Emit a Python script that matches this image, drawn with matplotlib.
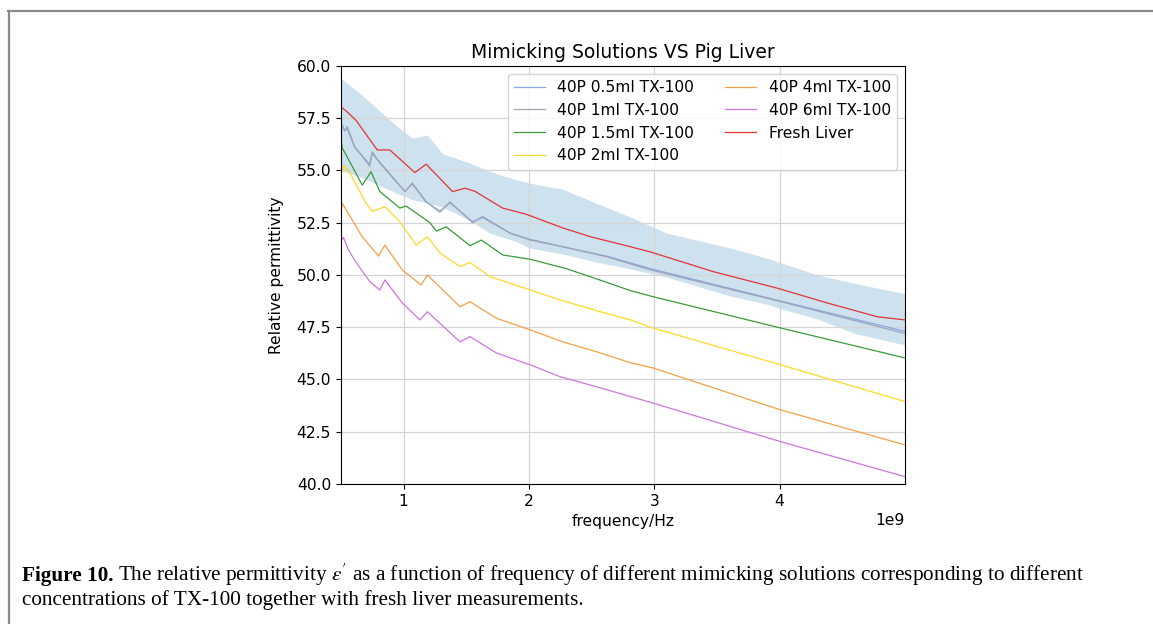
import matplotlib
matplotlib.use("Agg")
import matplotlib.pyplot as plt
from matplotlib.lines import Line2D
import numpy as np

plt.rcParams["font.family"] = ["DejaVu Sans"]
plt.rcParams["mathtext.fontset"] = "stix"

# frequencies in GHz, permittivity readings per solution
f_05 = [0.5, 0.53, 0.55, 0.61, 0.73, 0.75, 0.81, 1.01, 1.07, 1.18, 1.29, 1.37, 1.55, 1.63, 1.85, 2.01, 2.27, 2.62, 2.97, 4.01, 5.0]
e_05 = [57.3, 56.9, 57.0, 56.1, 55.3, 55.8, 55.4, 54.0, 54.35, 53.5, 53.05, 53.45, 52.55, 52.75, 52.0, 51.7, 51.35, 50.9, 50.3, 48.75, 47.3]
f_1 = [0.5, 0.53, 0.55, 0.61, 0.73, 0.75, 0.81, 1.01, 1.07, 1.18, 1.29, 1.37, 1.55, 1.63, 1.85, 2.01, 2.27, 2.62, 2.97, 4.01, 5.0]
e_1 = [57.2, 56.9, 57.1, 56.14, 55.2, 55.9, 55.35, 53.99, 54.4, 53.5, 53.0, 53.5, 52.5, 52.8, 52.0, 51.67, 51.35, 50.87, 50.24, 48.72, 47.2]
f_15 = [0.5, 0.51, 0.59, 0.67, 0.74, 0.81, 0.97, 1.02, 1.21, 1.26, 1.34, 1.53, 1.62, 1.79, 2.01, 2.3, 2.57, 2.81, 2.99, 4.01, 5.0]
e_15 = [56.46, 56.08, 55.2, 54.3, 54.94, 53.99, 53.2, 53.3, 52.5, 52.1, 52.3, 51.4, 51.67, 50.96, 50.75, 50.3, 49.75, 49.25, 48.96, 47.46, 46.03]
f_2 = [0.5, 0.52, 0.57, 0.70, 0.75, 0.85, 0.97, 1.10, 1.19, 1.29, 1.45, 1.53, 1.69, 2.01, 2.25, 2.57, 2.81, 2.99, 4.01, 5.0]
e_2 = [54.7, 55.26, 54.88, 53.44, 53.03, 53.27, 52.55, 51.43, 51.83, 51.05, 50.4, 50.6, 49.92, 49.28, 48.8, 48.24, 47.85, 47.46, 45.7, 43.94]
f_4 = [0.5, 0.51, 0.55, 0.67, 0.80, 0.85, 0.99, 1.14, 1.19, 1.45, 1.53, 1.74, 2.01, 2.27, 2.57, 2.81, 2.99, 4.01, 5.0]
e_4 = [52.96, 53.44, 53.03, 51.83, 50.9, 51.43, 50.24, 49.52, 50.0, 48.48, 48.72, 47.93, 47.37, 46.8, 46.27, 45.8, 45.55, 43.54, 41.87]
f_6 = [0.5, 0.52, 0.56, 0.61, 0.73, 0.81, 0.85, 0.99, 1.13, 1.19, 1.45, 1.53, 1.74, 2.01, 2.25, 2.57, 2.81, 2.99, 4.01, 5.0]
e_6 = [51.6, 51.8, 51.2, 50.7, 49.68, 49.28, 49.76, 48.66, 47.85, 48.24, 46.8, 47.05, 46.27, 45.7, 45.13, 44.6, 44.18, 43.87, 42.02, 40.35]

# fresh liver mean and spread
f_liver = [0.5, 0.55, 0.62, 0.79, 0.89, 1.09, 1.18, 1.39, 1.49, 1.57, 1.79, 1.98, 2.27, 2.49, 2.81, 2.97, 3.47, 3.98, 4.38, 4.78, 5.0]
e_liver = [58.05, 57.8, 57.4, 55.98, 55.98, 54.9, 55.3, 53.99, 54.15, 54.0, 53.2, 52.9, 52.25, 51.83, 51.35, 51.1, 50.16, 49.37, 48.66, 48.0, 47.85]
band_f = [0.5, 0.65, 0.8, 0.95, 1.07, 1.19, 1.31, 1.53, 1.69, 1.9, 2.0, 2.27, 2.55, 2.8, 3.1, 3.6, 3.9, 4.0, 4.3, 4.6, 5.0]
band_hi = [59.4, 58.7, 57.9, 57.1, 56.55, 56.7, 55.8, 55.35, 54.95, 54.55, 54.4, 54.1, 53.4, 52.8, 52.0, 51.3, 50.8, 50.6, 50.0, 49.6, 49.1]
band_lo = [55.0, 54.7, 54.3, 53.9, 53.6, 53.45, 53.25, 52.6, 52.0, 51.6, 51.3, 51.0, 50.6, 50.3, 49.9, 49.0, 48.6, 48.4, 47.9, 47.2, 46.65]

series = [
    ("40P 0.5ml TX-100", f_05, e_05, "#87a8e0"),
    ("40P 1ml TX-100", f_1, e_1, "#a4a4b4"),
    ("40P 1.5ml TX-100", f_15, e_15, "#3a9a3a"),
    ("40P 2ml TX-100", f_2, e_2, "#ffd92a"),
    ("40P 4ml TX-100", f_4, e_4, "#f5a047"),
    ("40P 6ml TX-100", f_6, e_6, "#cc77dd"),
]

fig = plt.figure(figsize=(11.53, 6.24), dpi=100)
ax = fig.add_axes([0.2957, 0.2244, 0.4892, 0.6699])

ax.fill_between(np.array(band_f) * 1e9, band_lo, band_hi, color="tab:blue", alpha=0.22, lw=0)
for name, f, e, c in series:
    ax.plot(np.array(f) * 1e9, e, color=c, lw=0.9, label=name)
ax.plot(np.array(f_liver) * 1e9, e_liver, color="#e03535", lw=0.9, label="Fresh Liver")

fs = 11.2
ax.set_xlim(0.5e9, 5.0e9)
ax.set_ylim(40, 60)
ax.set_yticks(np.arange(40, 60.1, 2.5))
ax.set_xticks([1e9, 2e9, 3e9, 4e9])
ax.grid(True, color="#d5d5d5", lw=0.9)
ax.tick_params(labelsize=fs)
ax.xaxis.get_offset_text().set_fontsize(fs)
ax.set_title("Mimicking Solutions VS Pig Liver", fontsize=13.5)
ax.set_xlabel("frequency/Hz", fontsize=fs)
ax.set_ylabel("Relative permittivity", fontsize=fs, labelpad=9)
ax.legend(ncol=2, loc="upper right", fontsize=fs, framealpha=0.8)

# page frame around the figure
fig.add_artist(Line2D([8 / 1153, 1.0], [1 - 10.5 / 624] * 2, color="#8a8a8a", lw=1.6))
fig.add_artist(Line2D([8.5 / 1153] * 2, [0, 1 - 10.5 / 624], color="#8a8a8a", lw=1.6))

# caption, bold label followed by plain text on the same baseline
cap_font = "Liberation Serif"
cap_size = 15.3
x0 = 22 / 1153
y1 = 1 - 581 / 624
bold = fig.text(x0, y1, "Figure 10.", fontsize=cap_size, fontweight="bold",
                family=cap_font, va="baseline")
renderer = fig.canvas.get_renderer()
bw = bold.get_window_extent(renderer).width / fig.bbox.width
fig.text(x0 + bw + 4 / 1153, y1,
         r"The relative permittivity $\varepsilon'$ as a function of frequency of different mimicking solutions corresponding to different",
         fontsize=cap_size, family=cap_font, va="baseline")
fig.text(x0, 1 - 605 / 624, "concentrations of TX-100 together with fresh liver measurements.",
         fontsize=cap_size, family=cap_font, va="baseline")

fig.savefig("out.png", dpi=100)
